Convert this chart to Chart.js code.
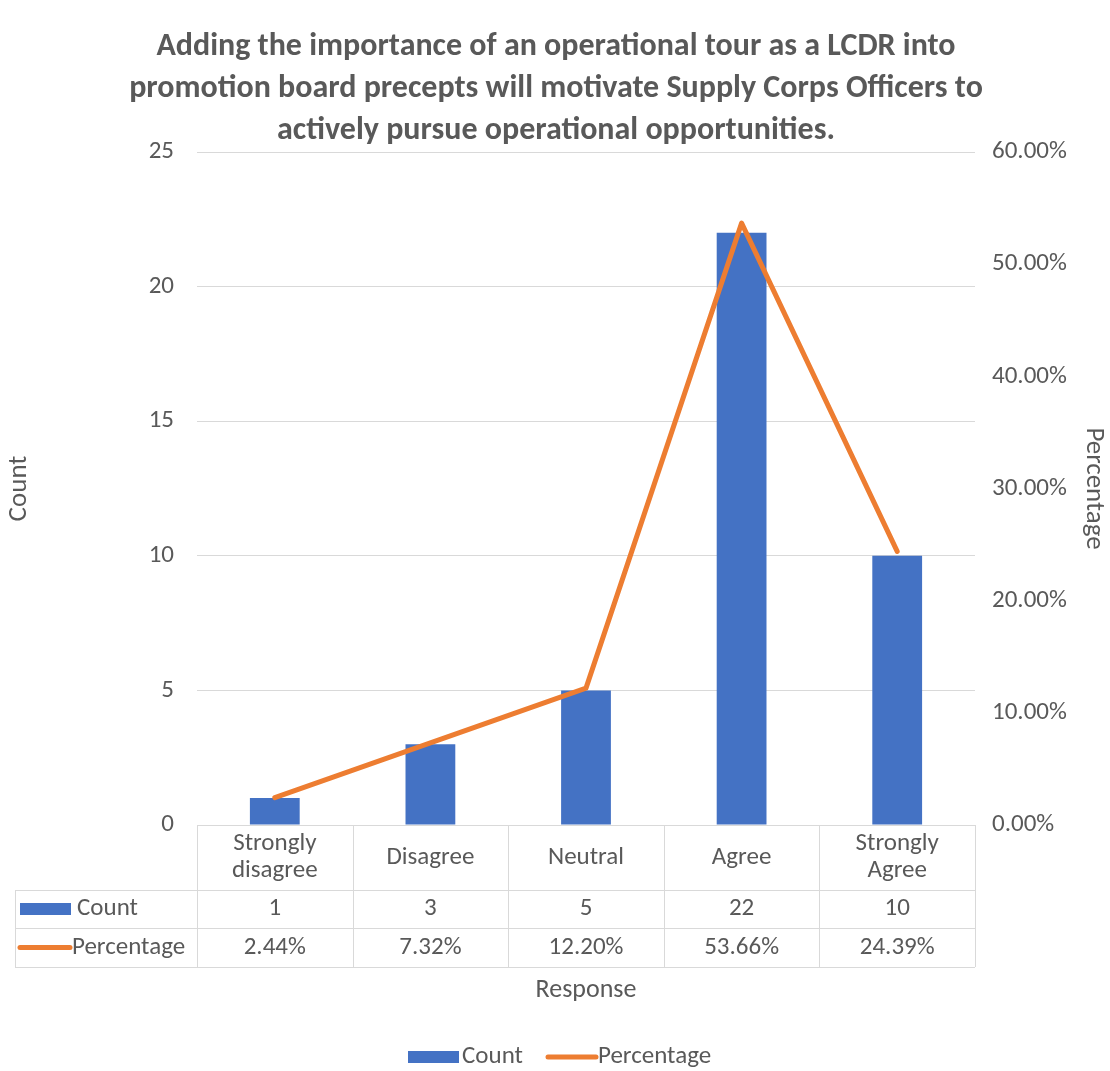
<!DOCTYPE html>
<html>
<head>
<meta charset="utf-8">
<title>Operational tour survey</title>
<script src="https://cdn.jsdelivr.net/npm/chart.js@4.4.1/dist/chart.umd.min.js"></script>
<style>
  html, body { margin: 0; padding: 0; background: #fff; }
  #wrap { width: 1110px; height: 1071px; position: relative; }
</style>
</head>
<body>
<div id="wrap"><canvas id="myChart"></canvas></div>
<script>
// ---------------- data ----------------
const titleLines = [
	'Adding the importance of an operational tour as a LCDR into',
	'promotion board precepts will motivate Supply Corps Officers to',
	'actively pursue operational opportunities.'
];
const responses = [['Strongly', 'disagree'], ['Disagree'], ['Neutral'], ['Agree'], ['Strongly', 'Agree']];
const counts = [1, 3, 5, 22, 10];
const percents = [2.44, 7.32, 12.20, 53.66, 24.39];
const countTicks = [0, 5, 10, 15, 20, 25];
const percentTicks = [0, 10, 20, 30, 40, 50, 60];

// ---------------- style ----------------
const BLUE = '#4472C4';
const ORANGE = '#ED7D31';
const GRID = '#D9D9D9';
const TEXT = '#595959';
const FONT = 'Carlito, Calibri, Lato, sans-serif';

const fmtPct = v => v.toFixed(2) + '%';

// title, data table under the plot, axis title and legend
const tablePlugin = {
	id: 'dataTable',
	afterDraw(chart) {
		const ctx = chart.ctx;
		const area = chart.chartArea;
		const xs = chart.scales.x;
		const colW = (area.right - area.left) / responses.length;
		const top = area.bottom;
		const r1 = top + 65, r2 = r1 + 38, r3 = r2 + 39;
		const tableLeft = 15;

		ctx.save();

		// title
		ctx.fillStyle = TEXT;
		ctx.font = 'bold 32px ' + FONT;
		ctx.textAlign = 'center';
		ctx.textBaseline = 'middle';
		titleLines.forEach((t, i) => ctx.fillText(t, 556, 47 + i * 42));

		// grid of the table
		ctx.strokeStyle = GRID;
		ctx.lineWidth = 1;
		ctx.beginPath();
		ctx.moveTo(area.left, top + 0.5); ctx.lineTo(area.right, top + 0.5);
		[r1, r2, r3].forEach(y => { ctx.moveTo(tableLeft, y + 0.5); ctx.lineTo(area.right, y + 0.5); });
		for (let i = 0; i <= responses.length; i++) {
			const x = Math.round(area.left + i * colW) + 0.5;
			ctx.moveTo(x, top); ctx.lineTo(x, r3);
		}
		ctx.moveTo(tableLeft + 0.5, r1); ctx.lineTo(tableLeft + 0.5, r3);
		ctx.stroke();

		// cells
		ctx.fillStyle = TEXT;
		ctx.font = '25px ' + FONT;
		responses.forEach((lab, i) => {
			const cx = xs.getPixelForValue(i);
			const mid = (top + r1) / 2;
			lab.forEach((s, j) => ctx.fillText(s, cx, mid + (j - (lab.length - 1) / 2) * 27));
			ctx.fillText(String(counts[i]), cx, (r1 + r2) / 2);
			ctx.fillText(fmtPct(percents[i]), cx, (r2 + r3) / 2);
		});

		// row headers with series keys
		ctx.textAlign = 'left';
		ctx.fillStyle = BLUE;
		ctx.fillRect(20, (r1 + r2) / 2 - 6, 51, 12);
		ctx.fillStyle = TEXT;
		ctx.fillText('Count', 77, (r1 + r2) / 2);
		ctx.strokeStyle = ORANGE;
		ctx.lineWidth = 5;
		ctx.lineCap = 'round';
		ctx.beginPath();
		ctx.moveTo(20, (r2 + r3) / 2); ctx.lineTo(70, (r2 + r3) / 2);
		ctx.stroke();
		ctx.fillText('Percentage', 72, (r2 + r3) / 2);

		// x axis title
		ctx.textAlign = 'center';
		ctx.font = '26px ' + FONT;
		ctx.fillText('Response', xs.getPixelForValue(2), 990);

		// legend
		const ly = 1057;
		ctx.font = '25px ' + FONT;
		ctx.fillStyle = BLUE;
		ctx.fillRect(408, ly - 6, 51, 12);
		ctx.fillStyle = TEXT;
		ctx.textAlign = 'left';
		ctx.fillText('Count', 462, ly);
		ctx.beginPath();
		ctx.moveTo(548, ly); ctx.lineTo(596, ly);
		ctx.stroke();
		ctx.fillText('Percentage', 598, ly);

		ctx.restore();
	}
};

const myChart = new Chart(document.getElementById('myChart').getContext('2d'), {
	data: {
		labels: responses,
		datasets: [
			{
				type: 'line',
				label: 'Percentage',
				data: percents,
				yAxisID: 'y2',
				borderColor: ORANGE,
				borderWidth: 5,
				borderCapStyle: 'round',
				borderJoinStyle: 'round',
				pointRadius: 0,
				tension: 0,
				order: 0
			},
			{
				type: 'bar',
				label: 'Count',
				data: counts,
				yAxisID: 'y',
				backgroundColor: BLUE,
				barPercentage: 0.32,
				categoryPercentage: 1,
				order: 1
			}
		]
	},
	options: {
		responsive: true,
		maintainAspectRatio: false,
		animation: false,
		layout: { padding: { top: 152, bottom: 246, left: 0, right: 0 } },
		plugins: {
			legend: { display: false },
			tooltip: { enabled: false }
		},
		scales: {
			x: {
				ticks: { display: false },
				grid: { display: false },
				border: { display: false },
				afterFit(s) { s.height = 0; }
			},
			y: {
				position: 'left',
				min: 0,
				max: 25,
				afterBuildTicks(s) { s.ticks = countTicks.map(v => ({ value: v })); },
				afterFit(s) { s.width = 197; },
				ticks: { padding: 23, color: TEXT, font: { family: FONT, size: 25 } },
				grid: { color: GRID, drawTicks: false },
				border: { display: false },
				title: { display: true, text: 'Count', color: TEXT, font: { family: FONT, size: 27 }, padding: { top: 3, bottom: 0 } }
			},
			y2: {
				position: 'right',
				min: 0,
				max: 60,
				afterBuildTicks(s) { s.ticks = percentTicks.map(v => ({ value: v })); },
				afterFit(s) { s.width = 135; },
				ticks: { padding: 17, color: TEXT, font: { family: FONT, size: 25 }, callback: v => fmtPct(v) },
				grid: { display: false, drawTicks: false },
				border: { display: false },
				title: { display: true, text: 'Percentage', color: TEXT, font: { family: FONT, size: 27 }, padding: { top: 0, bottom: 0 } }
			}
		}
	},
	plugins: [tablePlugin]
});
</script>
</body>
</html>
